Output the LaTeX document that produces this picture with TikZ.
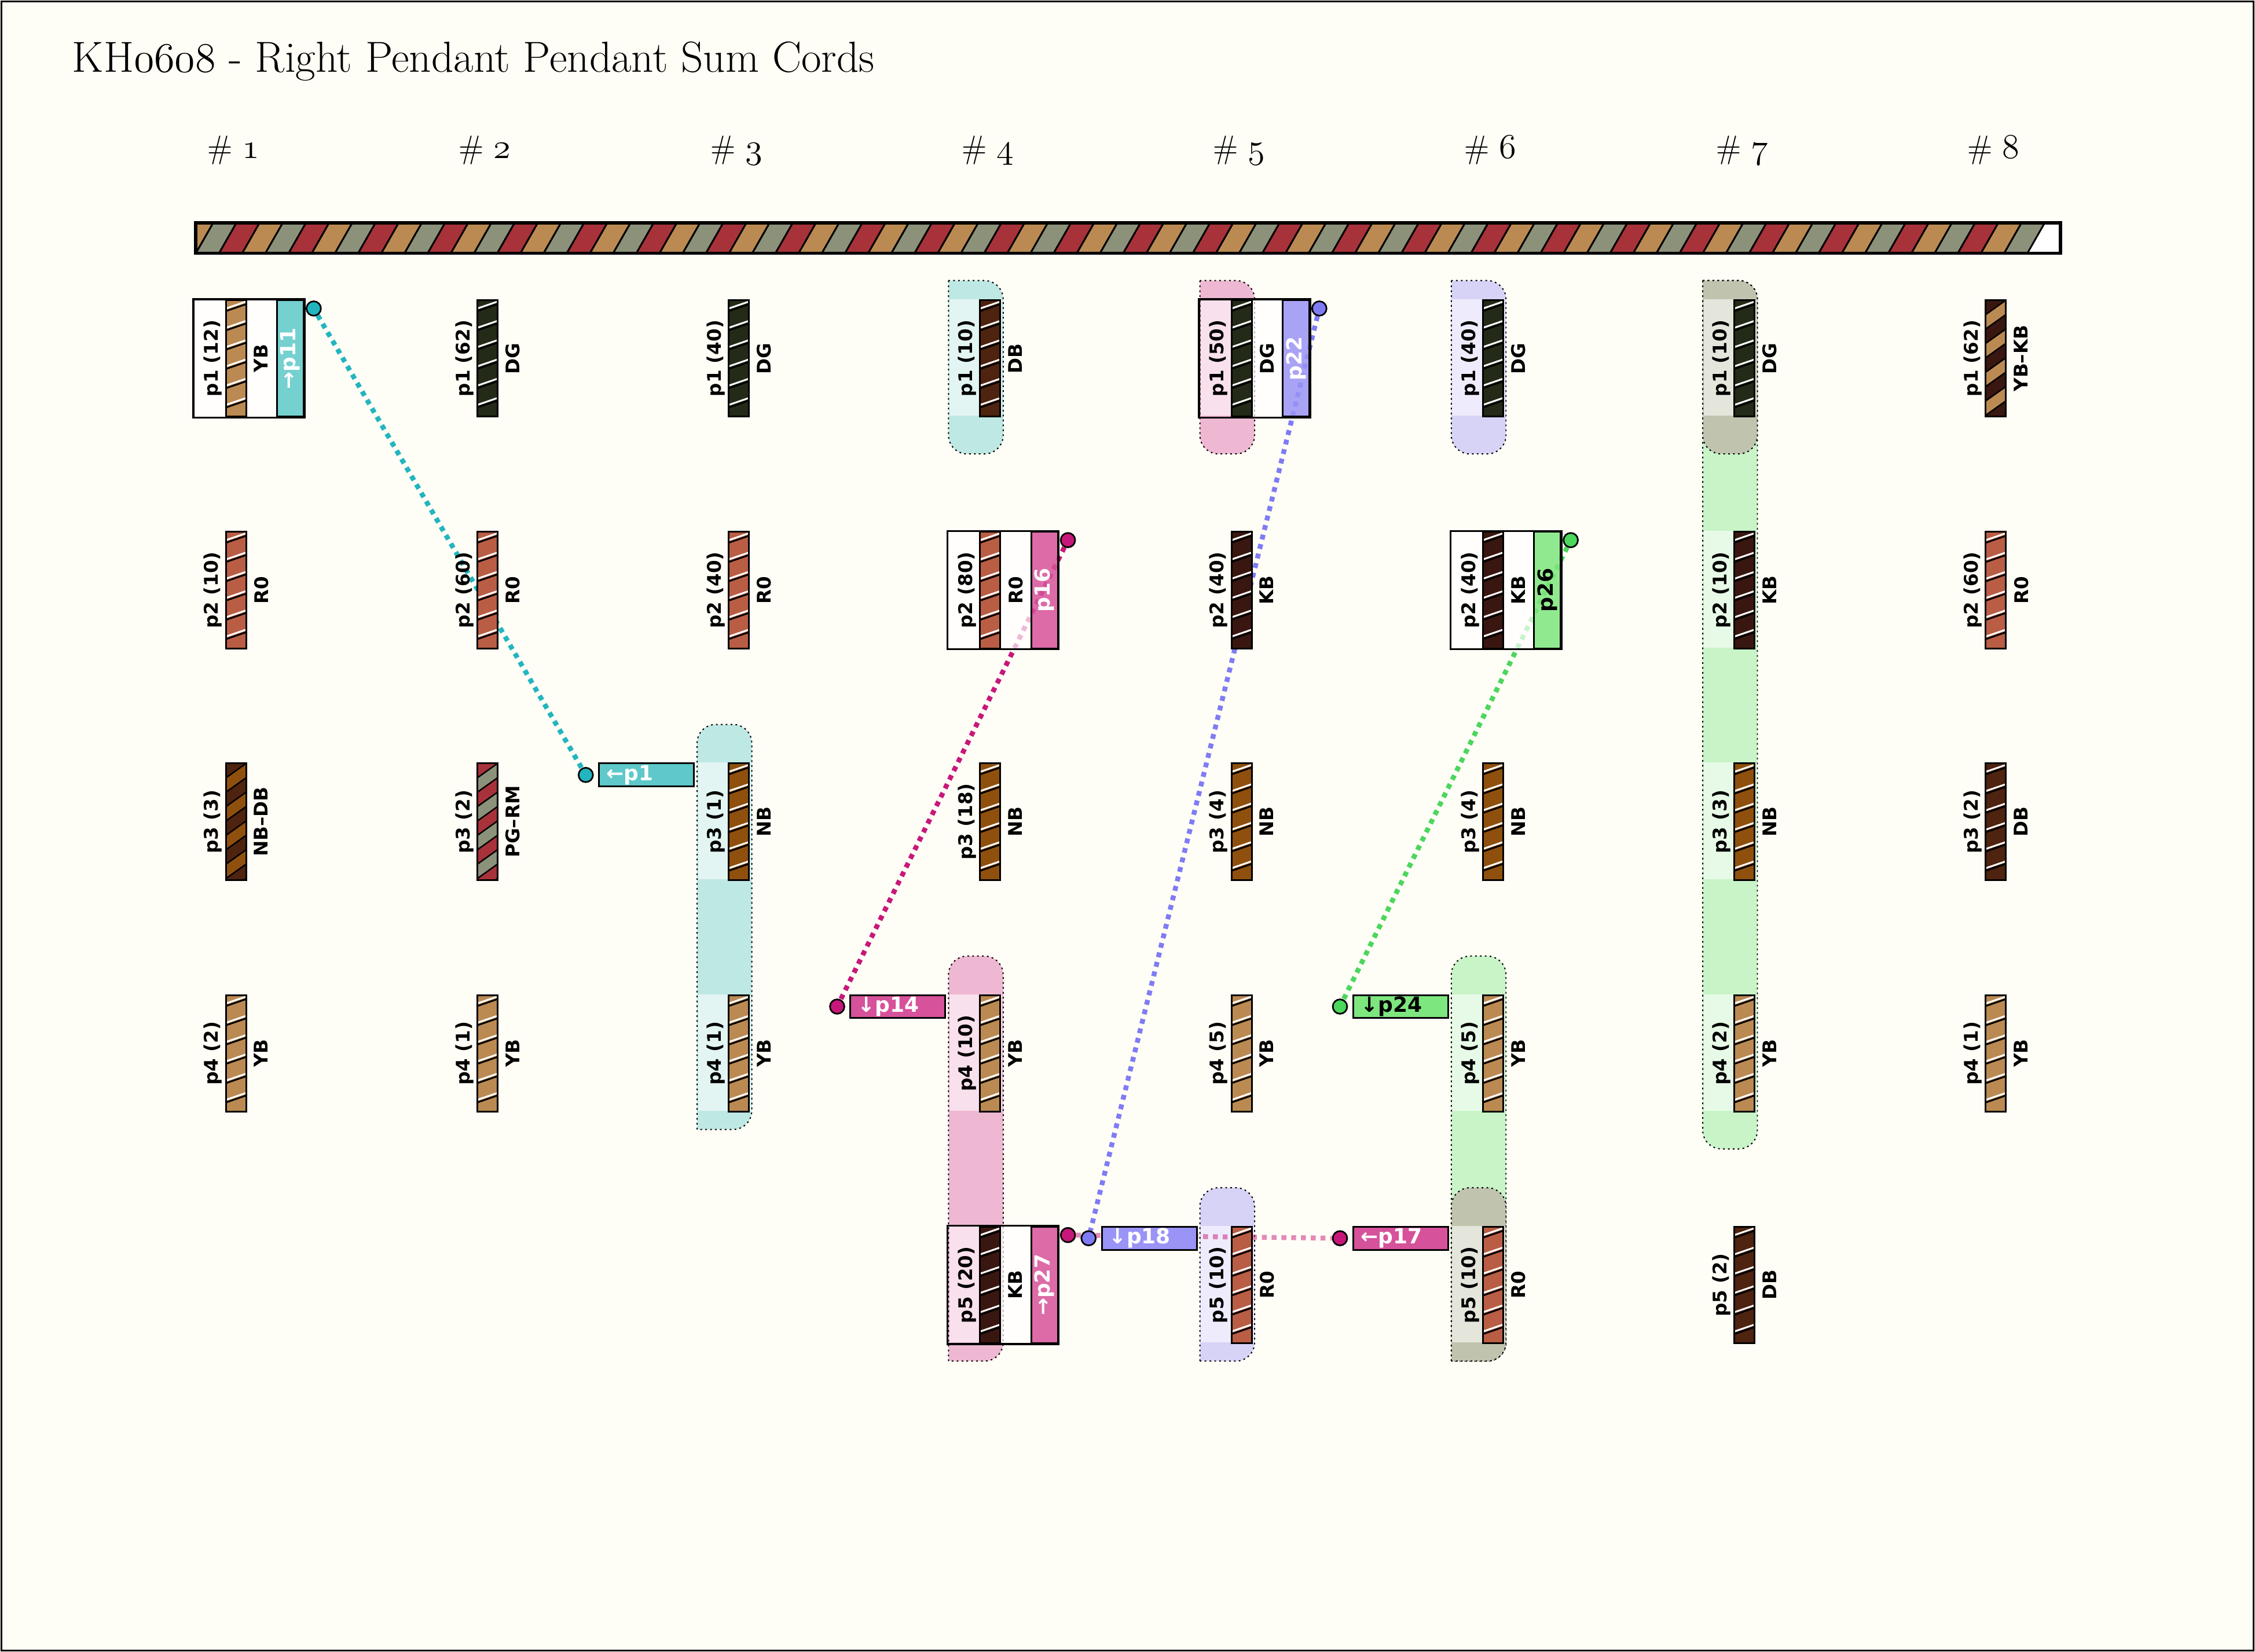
\documentclass[tikz,border=0pt]{standalone}
\usepackage{fontspec}
\setsansfont{DejaVu Sans}
\usetikzlibrary{positioning}

\definecolor{paper}{HTML}{FFFEF6}
% cord colours
\definecolor{YB}{HTML}{BB8A52}
\definecolor{DG}{HTML}{232A17}
\definecolor{DB}{HTML}{4E2310}
\definecolor{R0}{HTML}{B95E45}
\definecolor{KB}{HTML}{391710}
\definecolor{NB}{HTML}{8F500E}
\definecolor{RM}{HTML}{A8323A}
\definecolor{PG}{HTML}{8C917A}
\colorlet{bar0}{YB}
\colorlet{bar1}{PG}
\colorlet{bar2}{RM}
% groups and sums
\definecolor{grpC}{HTML}{BEE8E4}
\definecolor{grpP}{HTML}{EEB8D2}
\definecolor{grpL}{HTML}{D7D3F7}
\definecolor{grpG}{HTML}{C8F4C8}
\definecolor{grpY}{HTML}{C0C4AE}
\definecolor{sumC}{HTML}{5EC8CA}
\definecolor{sumP}{HTML}{D6529A}
\definecolor{sumL}{HTML}{9A94F6}
\definecolor{sumG}{HTML}{7EE67E}
\definecolor{dotC}{HTML}{22B5BF}
\definecolor{dotP}{HTML}{C8177A}
\definecolor{dotL}{HTML}{7F7BF5}
\definecolor{dotG}{HTML}{4CD65C}

\pgfdeclarelayer{back}
\pgfdeclarelayer{groups}
\pgfdeclarelayer{lines}
\pgfdeclarelayer{boxes}
\pgfsetlayers{back,groups,lines,boxes,main}

\newcommand{\labfont}{\sffamily\bfseries\fontsize{9.3}{11}\selectfont}
\newcommand{\sumfont}{\sffamily\bfseries\fontsize{10.3}{12}\selectfont}
\newcommand{\osf}[1]{{\usefont{OML}{cmm}{m}{it}#1}}
% group: column, first row, last row, colour, rounded end (t/b)
\newcommand{\grp}[5]{%
  \pgfmathsetmacro\xa{135+174.7*(#1-1)}
  \pgfmathsetmacro\xb{\xa+38}
  \pgfmathsetmacro\ya{208+161*(#2-1)}
  \pgfmathsetmacro\yb{289+161*(#3-1)}
  \ifx t#5
    \path[grp=#4] (\xa,\yb+13) [rounded corners=3.25mm] -- (\xa,\ya-26.5)
      -- (\xb,\ya-26.5) -- (\xb,\yb+13) [sharp corners] -- cycle;
  \else
    \path[grp=#4] (\xa,\ya-13) [rounded corners=3.25mm] -- (\xa,\yb+26.5)
      -- (\xb,\yb+26.5) -- (\xb,\ya-13) [sharp corners] -- cycle;
  \fi
  \foreach \r in {#2,...,#3}
    \fill[#4!43!white] (\xa+0.6,{208+161*(\r-1)}) rectangle (\xb-0.6,{289+161*(\r-1)});
}

\tikzset{
  twist/.style={path picture={
    \foreach \i in {0,...,5}{
      \draw[black, line width=0.3mm] ([yshift=-1.9mm-\i*3.35mm]path picture bounding box.north west) -- ++(3.5mm,1.2mm);
      \draw[white, line width=0.3mm] ([yshift=-1.45mm-\i*3.35mm]path picture bounding box.north west) -- ++(3.5mm,1.2mm);
    }}},
  cord/.style={draw, line width=0.3mm, fill=#1, inner sep=0pt, anchor=north,
    minimum width=3.5mm, minimum height=20.25mm, twist},
  cordmix/.style 2 args={draw, line width=0.3mm, fill=#1, inner sep=0pt, anchor=north,
    minimum width=3.5mm, minimum height=20.25mm, path picture={
    \foreach \j in {1,3,5,7,9}
      \fill[#2] ([yshift=-\j*2.5mm]path picture bounding box.north west) -- ++(3.5mm,2.5mm)
        -- ++(0,-2.5mm) -- ++(-3.5mm,-2.5mm) -- cycle;
    \foreach \j in {1,...,9}
      \draw[line width=0.25mm] ([yshift=-\j*2.5mm]path picture bounding box.north west) -- ++(3.5mm,2.5mm);
    }},
  lab/.style={font=\labfont, rotate=90, inner sep=0pt},
  grp/.style={fill=#1, draw=black, line width=0.2mm, dash pattern=on 0.3mm off 0.55mm},
  sumcell/.style={draw, line width=0.3mm, fill=#1, fill opacity=0.85, text opacity=1,
    font=\sumfont, rotate=90, inner sep=0pt, minimum width=20.25mm, minimum height=4.625mm},
  sumbar/.style={draw, line width=0.3mm, fill=#1, font=\sumfont, inner sep=0pt,
    inner xsep=1.3mm, text width=13.9mm, align=left, minimum height=4mm},
  dot/.style={circle, draw, line width=0.28mm, fill=#1, inner sep=0pt, minimum size=2.5mm},
  link/.style={draw=#1, line width=0.85mm, dash pattern=on 0.85mm off 0.85mm},
  boxline/.style={draw, line width=0.33mm},
}

\begin{document}
\begin{tikzpicture}[x=0.25mm, y=-0.25mm]
\useasboundingbox (0,0) rectangle (1567,1148);
\begin{pgfonlayer}{back}
  \fill[paper] (0,0) rectangle (1567,1148);
  \draw[line width=0.3mm] (1,1) rectangle (1566,1147);
  % primary cord
  \begin{scope}
    \clip (136,155) rectangle (1432,176);
    \fill[white] (136,155) rectangle (1432,176);
    \foreach \i [evaluate=\i as \m using {int(mod(\i,3))}] in {0,...,79}
      \filldraw[fill=bar\m, line width=0.3mm] ({120+16.11*\i},176) -- ++(16.11,0) -- ++(12,-21) -- ++(-16.11,0) -- cycle;
  \end{scope}
  \draw[line width=0.6mm] (136,155) rectangle (1432,176);
\end{pgfonlayer}

\node[anchor=base west, inner sep=0pt, font=\fontsize{21.5}{26}\selectfont] (title) at (50,50)
  {KH\osf{0608} - Right Pendant Pendant Sum Cords};
\foreach \k in {1,...,8}
  \node[anchor=base west, inner sep=0pt, font=\fontsize{16}{18}\selectfont] (h\k) at ({144+174.7*(\k-1)},110) {\#\ \osf{\k}};

% pendant cords
\foreach \k/\r/\n/\cc in {1/1/12/YB, 1/2/10/R0, 1/4/2/YB,
    2/1/62/DG, 2/2/60/R0, 2/4/1/YB,
    3/1/40/DG, 3/2/40/R0, 3/3/1/NB, 3/4/1/YB,
    4/1/10/DB, 4/2/80/R0, 4/3/18/NB, 4/4/10/YB, 4/5/20/KB,
    5/1/50/DG, 5/2/40/KB, 5/3/4/NB, 5/4/5/YB, 5/5/10/R0,
    6/1/40/DG, 6/2/40/KB, 6/3/4/NB, 6/4/5/YB, 6/5/10/R0,
    7/1/10/DG, 7/2/10/KB, 7/3/3/NB, 7/4/2/YB, 7/5/2/DB,
    8/2/60/R0, 8/3/2/DB, 8/4/1/YB}{
  \node[cord=\cc] (c\k\r) at ({164+174.7*(\k-1)},{208+161*(\r-1)}) {};
  \node[lab, anchor=south] (l\k\r) at ([xshift=-0.45mm]c\k\r.west) {p\r\ (\n)};
  \node[lab, anchor=north] (t\k\r) at ([xshift=1.2mm]c\k\r.east) {\cc};
}
\foreach \k/\r/\n/\ca/\cb/\txt in {1/3/3/DB/NB/NB--DB, 2/3/2/RM/PG/PG--RM, 8/1/62/KB/YB/YB--KB}{
  \node[cordmix={\ca}{\cb}] (c\k\r) at ({164+174.7*(\k-1)},{208+161*(\r-1)}) {};
  \node[lab, anchor=south] (l\k\r) at ([xshift=-0.45mm]c\k\r.west) {p\r\ (\n)};
  \node[lab, anchor=north] (t\k\r) at ([xshift=1.2mm]c\k\r.east) {\txt};
}

% sum cords beside their pendants
\foreach \k/\r/\s/\tc/\g/\txt in {1/1/C/white/0/→p11, 4/2/P/white/0/p16, 4/5/P/white/1/→p27,
    5/1/L/white/1/p22, 6/2/G/black/0/p26}{
  \begin{pgfonlayer}{boxes}
    \fill[white, fill opacity=0.7] (c\k\r.north east) rectangle ([xshift=5.375mm]c\k\r.south east);
    \ifnum\g=0 \fill[white, fill opacity=0.7] ([xshift=-5.5mm]c\k\r.north west) rectangle (c\k\r.south west);\fi
  \end{pgfonlayer}
  \node[sumcell=sum\s, text=\tc] (s\k\r) at ([xshift=9.44mm]c\k\r.center) {\txt};
  \draw[boxline] ([xshift=-5.5mm]c\k\r.north west) rectangle ([xshift=10mm]c\k\r.south east);
  \node[dot=dot\s] (d\k\r) at ([xshift=11.6mm,yshift=-1.6mm]c\k\r.north east) {};
}
\foreach \k/\r/\s/\tc/\txt in {3/3/C/white/←p1, 4/4/P/white/↓p14, 5/5/L/white/↓p18,
    6/4/G/black/↓p24, 6/5/P/white/←p17}{
  \node[sumbar=sum\s, text=\tc, left=5.75mm of c\k\r.north west, anchor=north east] (b\k\r) {\txt};
  \node[dot=dot\s, left=0.75mm of b\k\r.west] (e\k\r) {};
}

\begin{pgfonlayer}{lines}
  \draw[link=dotC] (d11) -- (e33);
  \draw[link=dotP] (d42) -- (e44);
  \draw[link=dotL] (d51) -- (e55);
  \draw[link=dotG] (d62) -- (e64);
  \draw[link=dotP, draw opacity=0.5] (d45) -- (e65);
\end{pgfonlayer}

\begin{pgfonlayer}{groups}
  \grp{3}{3}{4}{grpC}{t}
  \grp{4}{1}{1}{grpC}{b}
  \grp{4}{4}{5}{grpP}{t}
  \grp{5}{1}{1}{grpP}{b}
  \grp{5}{5}{5}{grpL}{t}
  \grp{6}{1}{1}{grpL}{b}
  \grp{6}{4}{5}{grpG}{t}
  \grp{6}{5}{5}{grpY}{t}
  \grp{7}{1}{4}{grpG}{b}
  \grp{7}{1}{1}{grpY}{b}
\end{pgfonlayer}
\end{tikzpicture}
\end{document}
